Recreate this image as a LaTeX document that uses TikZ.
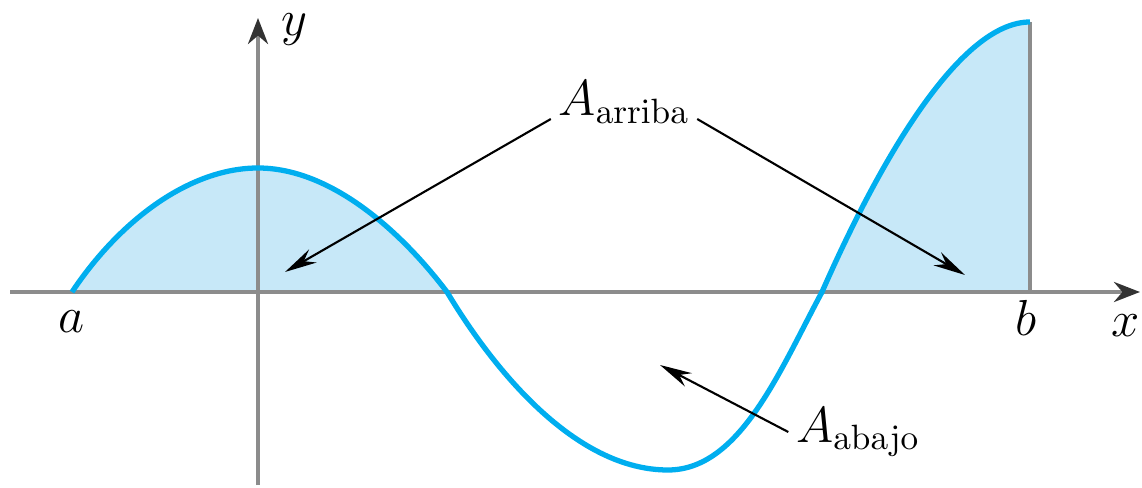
\documentclass[tikz,border=0pt]{standalone}
\usetikzlibrary{arrows.meta}
\definecolor{axisgray}{RGB}{140,140,140}
\definecolor{curveblue}{RGB}{0,174,239}
\definecolor{areablue}{RGB}{199,232,248}
\tikzset{
  axis/.style={draw=axisgray,line width=1.1pt,-{Stealth[length=0.26cm,width=0.2cm,color=black!80]}},
  leader/.style={draw=black,line width=0.6pt,-{Stealth[length=0.32cm,width=0.15cm]}},
  lbl/.style={font=\fontsize{14}{16}\selectfont,inner sep=2pt}
}
\begin{document}
\begin{tikzpicture}[x=0.01cm,y=-0.01cm]
\useasboundingbox (0,0) rectangle (1142,488);

\fill[areablue] (72,292) .. controls (120,220) and (190,168) .. (258,168)
  .. controls (330,168) and (400,230) .. (447,292) -- cycle;
\fill[areablue] (822,292) .. controls (880,160) and (960,22) .. (1030,22)
  -- (1030,292) -- cycle;

\coordinate (xs) at (10,292);
\coordinate (xe) at (1140,292);
\coordinate (ys) at (258,485);
\coordinate (ye) at (258,18);
\draw[axis] (xs)--(xe);
\draw[axis] (ys)--(ye);
\draw[axisgray,line width=1.1pt] (1030,22)--(1030,292);

\draw[curveblue,line width=1.5pt] (72,292) .. controls (120,220) and (190,168) .. (258,168)
  .. controls (330,168) and (400,230) .. (447,292)
  .. controls (500,380) and (580,470) .. (668,470)
  .. controls (740,470) and (780,370) .. (822,292)
  .. controls (880,160) and (960,22) .. (1030,22);

\node[lbl] (a) at (72,322) {$a$};
\node[lbl] (b) at (1026,318) {$b$};
\node[lbl] (x) at (1126,326) {$x$};
\node[lbl] (y) at (294,30) {$y$};

\node[lbl] (arriba) at (624,102) {$A_{\mathrm{arriba}}$};
\node[lbl] (abajo) at (858,432) {$A_{\mathrm{abajo}}$};

\coordinate (tipl) at (285,272);
\coordinate (tipr) at (965,275);
\coordinate (tipd) at (660,365);

\draw[leader] ([yshift=-0.17cm]arriba.west)--(tipl);
\draw[leader] ([yshift=-0.17cm]arriba.east)--(tipr);
\draw[leader] (abajo.west)--(tipd);
\end{tikzpicture}
\end{document}
